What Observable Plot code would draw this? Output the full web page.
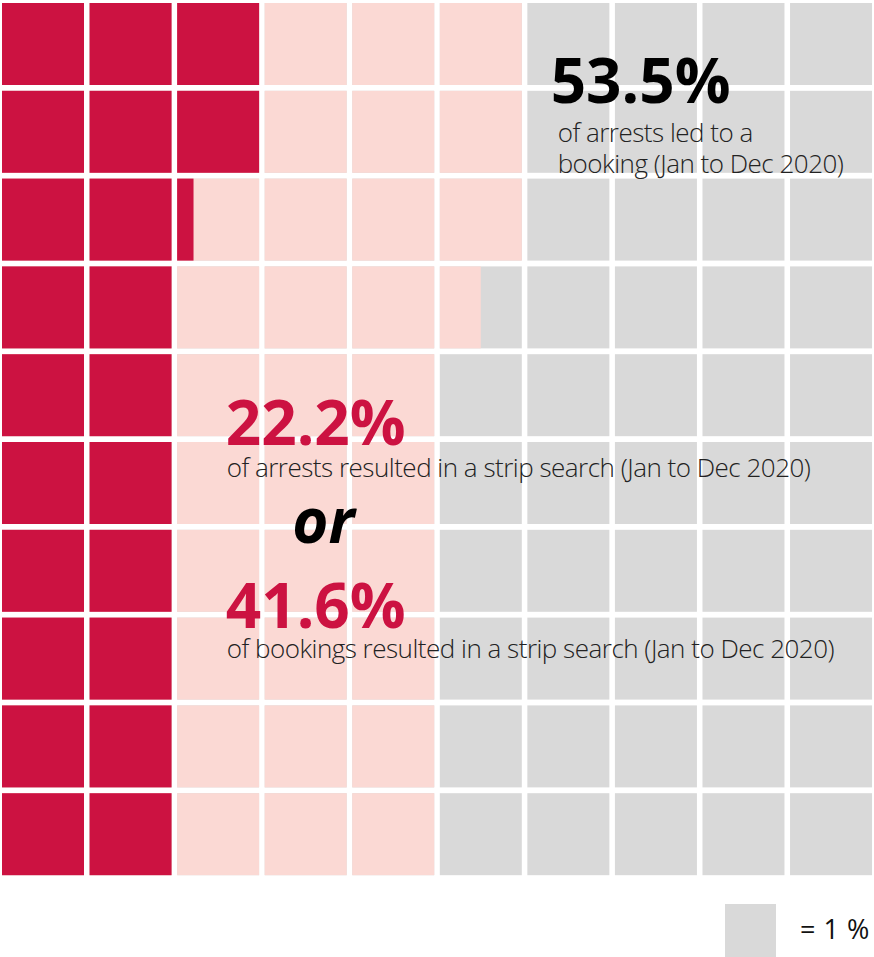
<!DOCTYPE html>
<html>
<head>
<meta charset="utf-8">
<script src="https://cdn.jsdelivr.net/npm/d3@7"></script>
<script src="https://cdn.jsdelivr.net/npm/@observablehq/plot@0.6"></script>
<style>
  html, body { margin: 0; padding: 0; background: #fff; }
  #chart svg { display: block; }
  #chart svg .body-text text, #chart svg text.body-text { letter-spacing: -0.5px; }
  #legend { position: relative; width: 874px; height: 77px; }
  #legend .sw { position: absolute; left: 725px; top: 24px; width: 51px; height: 53px; background: #d9d9d9; }
  #legend .lb { position: absolute; left: 800px; top: 34px; font: 400 27px "Open Sans", "Noto Sans", sans-serif; color: #111; line-height: 30px; word-spacing: 1px; white-space: nowrap; }
</style>
</head>
<body>
<div id="chart"></div>
<div id="legend"><div class="sw"></div><div class="lb">= 1 %</div></div>
<script>
// ---- data ----
const stripSearchPct = 22.2;   // % of arrests resulting in strip search
const bookingPct = 53.5;       // % of arrests leading to a booking
const stripOfBookingsPct = 41.6;
const totalCells = 100;
const colors = { strip: "#cc1241", booking: "#fbd9d4", rest: "#d9d9d9" };

const annotations = [
  { text: "53.5%", x: 6.26, y: 1.13, size: 62, weight: 700, style: "normal", color: "#000" },
  { text: "of arrests led to a", x: 6.34, y: 1.58, size: 26, weight: 300, style: "normal", color: "#222" },
  { text: "booking (Jan to Dec 2020)", x: 6.34, y: 1.925, size: 26, weight: 300, style: "normal", color: "#222" },
  { text: "22.2%", x: 2.55, y: 5.03, size: 62, weight: 700, style: "normal", color: "#cc1241" },
  { text: "of arrests resulted in a strip search (Jan to Dec 2020)", x: 2.56, y: 5.39, size: 26, weight: 300, style: "normal", color: "#222" },
  { text: "or", x: 3.31, y: 6.14, size: 62, weight: 700, style: "italic", color: "#000" },
  { text: "41.6%", x: 2.55, y: 7.11, size: 62, weight: 700, style: "normal", color: "#cc1241" },
  { text: "of bookings resulted in a strip search (Jan to Dec 2020)", x: 2.56, y: 7.45, size: 26, weight: 300, style: "normal", color: "#222" }
];

// ---- build cell layers (column-wise fill, 10 per column) ----
const cw = 82 / 87.56, ch = 82 / 87.8;
function layer(limit, key) {
  const out = [];
  for (let i = 0; i < totalCells; i++) {
    if (i >= limit) break;
    const frac = Math.min(1, limit - i);
    const col = Math.floor(i / 10), row = i % 10;
    out.push({ x1: col, x2: col + frac * cw, y1: row, y2: row + ch, key });
  }
  return out;
}
const grey = layer(totalCells, "rest");
const pink = layer(bookingPct, "booking");
const red = layer(stripSearchPct, "strip");

const textMarks = annotations.map(a => Plot.text([a], {
  x: "x", y: "y", text: "text",
  textAnchor: "start", lineAnchor: "bottom",
  fontSize: a.size, fontWeight: a.weight, fontStyle: a.style,
  fill: a.color,
  className: a.weight === 700 ? "big-text" : "body-text",
  fontFamily: "'Open Sans', 'Noto Sans', sans-serif"
}));

const chart = Plot.plot({
  width: 874,
  height: 880,
  margin: 0,
  x: { type: "linear", domain: [0, 10], range: [2, 877.6], axis: null },
  y: { type: "linear", domain: [0, 10], range: [3, 881], axis: null },
  style: { background: "#fff" },
  marks: [
    Plot.rect(grey, { x1: "x1", x2: "x2", y1: "y1", y2: "y2", fill: colors.rest }),
    Plot.rect(pink, { x1: "x1", x2: "x2", y1: "y1", y2: "y2", fill: colors.booking }),
    Plot.rect(red, { x1: "x1", x2: "x2", y1: "y1", y2: "y2", fill: colors.strip }),
    ...textMarks
  ]
});
document.getElementById("chart").appendChild(chart);
</script>
</body>
</html>
